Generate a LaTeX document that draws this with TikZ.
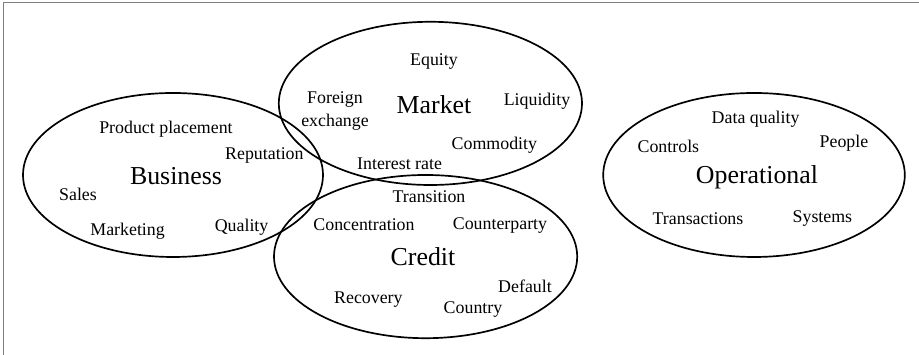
\documentclass[tikz,border=0pt]{standalone}
\usepackage{fontspec}
\setmainfont{Liberation Serif}
\usepackage{tikz}
\tikzset{%
  ring/.style={line width=1.2pt},%
  item/.style={font=\fontsize{12.7}{16.3}\selectfont,inner sep=1pt,align=center,yshift=-0.05cm},%
  title/.style={font=\fontsize{18.4}{21}\selectfont,inner sep=1pt}}

\begin{document}
\begin{tikzpicture}
    \useasboundingbox (0,0) rectangle (22.975,8.875);
    \draw[gray,line width=0.9pt] (0.0875,0) -- (0.0875,8.8125) -- (22.975,8.8125);
    \draw[ring] (4.325,4.5) ellipse (3.75cm and 2.05cm);
    \draw[ring] (10.76,6.29) ellipse (3.79cm and 2.04cm);
    \draw[ring] (10.64,2.46) ellipse (3.79cm and 2.04cm);
    \draw[ring] (18.85,4.5) ellipse (3.77cm and 2.05cm);
    % business
    \node[title] (business) at (4.4,4.475) {Business};
    \node[item] (placement) at (4.15,5.7) {Product placement};
    \node[item] (reputation) at (6.61,5.05) {Reputation};
    \node[item] (sales) at (1.95,4.075) {Sales};
    \node[item] (marketing) at (3.19,3.15) {Marketing};
    \node[item] (quality) at (6.04,3.25) {Quality};
    % market
    \node[title] (market) at (10.85,6.25) {Market};
    \node[item] (equity) at (10.85,7.375) {Equity};
    \node[item,text depth=0pt] (forex) at (8.375,6.2) {Foreign\\exchange};
    \node[item] (liquidity) at (13.425,6.4) {Liquidity};
    \node[item] (commodity) at (12.36,5.3) {Commodity};
    \node[item] (interest) at (9.99,4.825) {Interest rate};
    % credit
    \node[title] (credit) at (10.575,2.45) {Credit};
    \node[item] (transition) at (10.725,4.0) {Transition};
    \node[item] (concentration) at (9.1,3.3) {Concentration};
    \node[item] (counterparty) at (12.5,3.275) {Counterparty};
    \node[item] (default) at (13.125,1.775) {Default};
    \node[item] (country) at (11.825,1.175) {Country};
    \node[item] (recovery) at (9.21,1.425) {Recovery};
    % operational
    \node[title] (operational) at (18.925,4.45) {Operational};
    \node[item] (dataquality) at (18.89,5.95) {Data quality};
    \node[item] (controls) at (16.71,5.275) {Controls};
    \node[item] (people) at (21.1,5.35) {People};
    \node[item] (transactions) at (17.45,3.45) {Transactions};
    \node[item] (systems) at (20.56,3.45) {Systems};
\end{tikzpicture}
\end{document}
